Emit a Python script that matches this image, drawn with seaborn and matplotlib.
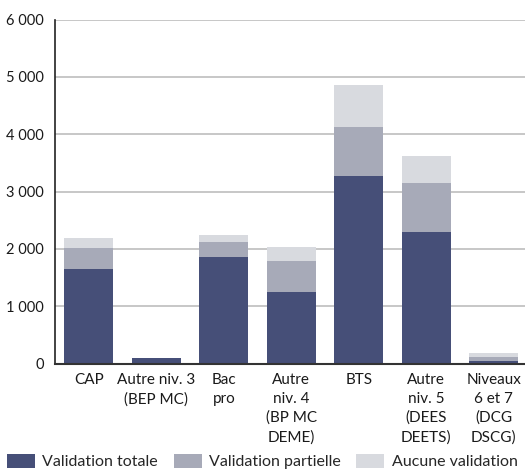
import matplotlib
matplotlib.use("Agg")
import matplotlib.pyplot as plt
from matplotlib.patches import Patch
import seaborn as sns
import pandas as pd

categories = ["CAP", "Autre niv. 3\n(BEP MC)", "Bac\npro", "Autre\nniv. 4\n(BP MC\nDEME)",
              "BTS", "Autre\nniv. 5\n(DEES\nDEETS)", "Niveaux\n6 et 7\n(DCG\nDSCG)"]
validation_totale = [1650, 95, 1860, 1250, 3270, 2295, 50]
validation_partielle = [370, 12, 260, 540, 855, 855, 70]
aucune_validation = [170, 0, 120, 245, 730, 470, 70]

series_names = ["Validation totale", "Validation partielle", "Aucune validation"]
colors = ["#464f78", "#a7aab8", "#d8dadf"]
yticks = [0, 1000, 2000, 3000, 4000, 5000, 6000]

df = pd.DataFrame({
    "cat": categories,
    "t": validation_totale,
    "p": validation_partielle,
    "a": aucune_validation,
})
df["tp"] = df["t"] + df["p"]
df["tpa"] = df["tp"] + df["a"]

sns.set_theme(style="white")
plt.rcParams["font.family"] = ["Lato", "DejaVu Sans"]

fig = plt.figure(figsize=(5.25, 4.71), dpi=100)
ax = fig.add_axes([55 / 525, 1 - 363.7 / 471, 472.5 / 525, (363.7 - 19.5) / 471])

ax.set_axisbelow(True)
ax.yaxis.grid(True, color="#bdbdbd", linewidth=1.2)

# cumulative layers drawn back to front so each visible slice is one series
width = 49 / 67.5
for col, c in zip(["tpa", "tp", "t"], colors[::-1]):
    sns.barplot(data=df, x="cat", y=col, color=c, width=width, ax=ax,
                saturation=1, linewidth=0, order=categories)

ax.set_ylim(0, 6000)
ax.set_xlim(-0.5, 6.5)
ax.set_yticks(yticks)
ax.set_yticklabels([f"{v:,}".replace(",", " ") for v in yticks])
ax.set_xlabel("")
ax.set_ylabel("")
ax.tick_params(axis="y", length=0, labelsize=10.5, colors="#1a1a1a", pad=8)
ax.tick_params(axis="x", length=0, labelsize=11, colors="#1a1a1a", pad=7)
for lbl in ax.get_xticklabels():
    lbl.set_linespacing(1.42)

for s in ["top", "right"]:
    ax.spines[s].set_visible(False)
ax.spines["left"].set_color("#222222")
ax.spines["left"].set_linewidth(1.2)
ax.spines["bottom"].set_color("#333333")
ax.spines["bottom"].set_linewidth(1.5)

handles = [Patch(facecolor=c, edgecolor="none") for c in colors]
fig.legend(handles, series_names, loc="lower left", bbox_to_anchor=(0.01, 0.0),
           ncol=3, frameon=False, fontsize=11.5, handlelength=1.75, handleheight=1.0,
           handletextpad=0.45, columnspacing=1.0, borderpad=0.1, borderaxespad=0.0)

fig.savefig("out.png", dpi=100)
